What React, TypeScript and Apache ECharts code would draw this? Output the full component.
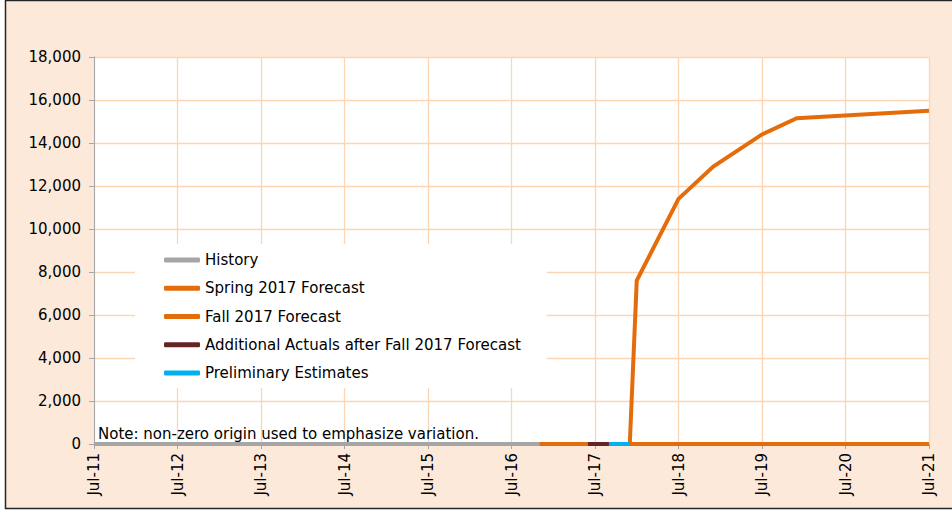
import React, { useEffect, useRef } from "react";
import * as echarts from "echarts";

// Tick labels (x axis: one per July, 2011–2021)
const xTickLabels = ["Jul-11", "Jul-12", "Jul-13", "Jul-14", "Jul-15", "Jul-16", "Jul-17", "Jul-18", "Jul-19", "Jul-20", "Jul-21"];

// Series (dates as YYYY-MM, values)
const historyDates = ["2011-07", "2016-11"];
const historyValues = [0, 0];

const springDates = ["2016-11", "2021-07"];
const springValues = [0, 0];

const fallDates = ["2017-12", "2018-01", "2018-07", "2018-12", "2019-07", "2019-12", "2021-07"];
const fallValues = [0, 7600, 11400, 12900, 14400, 15150, 15500];

const additionalDates = ["2017-06", "2017-09"];
const additionalValues = [0, 0];

const prelimDates = ["2017-09", "2017-12"];
const prelimValues = [0, 0];

const noteText = "Note: non-zero origin used to emphasize variation.";

const FONT = "'DejaVu Sans', Arial, sans-serif";

// month offset from Jul-2011
const monthIndex = (d: string) => {
  const [y, m] = d.split("-").map(Number);
  return (y - 2011) * 12 + (m - 7);
};
const pairs = (dates: string[], vals: number[]) => dates.map((d, i) => [monthIndex(d), vals[i]]);

export default function App() {
  const ref = useRef<HTMLDivElement>(null);
  useEffect(() => {
    if (!ref.current) return;
    const chart = echarts.init(ref.current, undefined, { renderer: "svg" });
    const lineSeries = (name: string, data: number[][], color: string, width = 4) => ({
      name,
      type: "line",
      data,
      showSymbol: false,
      symbol: "none",
      lineStyle: { color, width, cap: "butt", join: "miter" },
      itemStyle: { color },
    });
    chart.setOption({
      animation: false,
      backgroundColor: "#ffffff",
      graphic: [
        {
          type: "rect",
          z: -10,
          silent: true,
          shape: { x: 5.5, y: 0.5, width: 960, height: 508 },
          style: { fill: "#FDE9D9", stroke: "#262626", lineWidth: 1.5 },
        },
        {
          type: "text",
          z: 10,
          left: 98,
          top: 426,
          style: { text: noteText, font: `15px ${FONT}`, fill: "#000" },
        },
      ],
      grid: {
        left: 94,
        right: 23,
        top: 57,
        bottom: 67,
        show: true,
        backgroundColor: "#ffffff",
        borderWidth: 0,
      },
      legend: {
        orient: "vertical",
        left: 135,
        top: 244,
        backgroundColor: "#ffffff",
        padding: [8, 26, 7, 29],
        itemGap: 12.25,
        itemWidth: 36,
        itemHeight: 5,
        icon: "roundRect",
        textStyle: { fontFamily: FONT, fontSize: 15, color: "#000", lineHeight: 16 },
        data: ["History", "Spring 2017 Forecast", "Fall 2017 Forecast", "Additional Actuals after Fall 2017 Forecast", "Preliminary Estimates"],
      },
      xAxis: {
        type: "value",
        min: 0,
        max: 120,
        interval: 12,
        axisLine: { show: true, lineStyle: { color: "#A6A6A6" } },
        axisTick: { show: true, length: 5, lineStyle: { color: "#A6A6A6" } },
        axisLabel: {
          rotate: 90,
          margin: 9,
          fontFamily: FONT,
          fontSize: 15,
          color: "#000",
          formatter: (v: number) => xTickLabels[Math.round(v / 12)] ?? "",
        },
        splitLine: { show: true, lineStyle: { color: "#FCD5B4", width: 1.3 } },
      },
      yAxis: {
        type: "value",
        min: 0,
        max: 18000,
        interval: 2000,
        axisLine: { show: true, lineStyle: { color: "#A6A6A6" } },
        axisTick: { show: true, length: 5, lineStyle: { color: "#A6A6A6" } },
        axisLabel: {
          margin: 13,
          fontFamily: FONT,
          fontSize: 15,
          color: "#000",
          formatter: (v: number) => v.toLocaleString("en-US"),
        },
        splitLine: { show: true, lineStyle: { color: "#FCD5B4", width: 1.3 } },
      },
      series: [
        lineSeries("History", pairs(historyDates, historyValues), "#A6A6A6"),
        lineSeries("Spring 2017 Forecast", pairs(springDates, springValues), "#E46C0A"),
        lineSeries("Fall 2017 Forecast", pairs(fallDates, fallValues), "#E46C0A"),
        lineSeries("Additional Actuals after Fall 2017 Forecast", pairs(additionalDates, additionalValues), "#632523"),
        lineSeries("Preliminary Estimates", pairs(prelimDates, prelimValues), "#00B0F0"),
      ],
    });
    return () => chart.dispose();
  }, []);
  return (
    <div
      ref={ref}
      style={{ position: "fixed", left: 0, top: 0, width: 952, height: 511 }}
    />
  );
}
